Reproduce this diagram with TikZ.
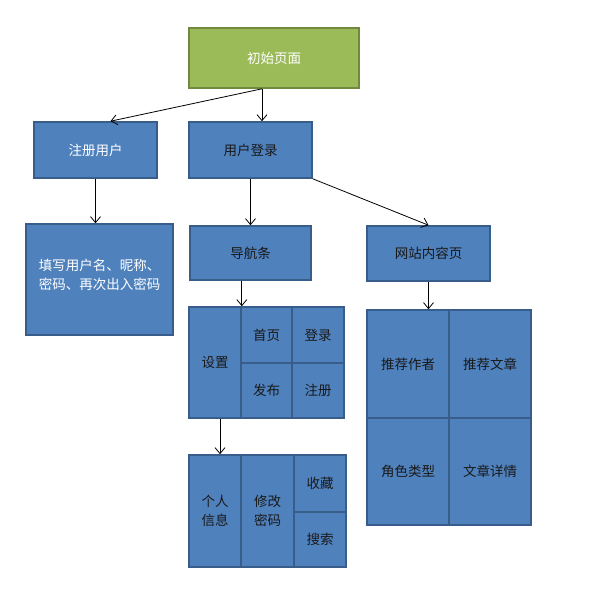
\documentclass[tikz,border=0pt]{standalone}
\usepackage{fontspec}
\setmainfont{Noto Sans CJK SC}
\usepackage{tikz}
\usetikzlibrary{arrows.meta}

\definecolor{boxblue}{HTML}{4F81BD}
\definecolor{edgeblue}{HTML}{385D8A}
\definecolor{boxgreen}{HTML}{9BBB59}
\definecolor{edgegreen}{HTML}{71893F}

\begin{document}
\begin{tikzpicture}[x=1pt, y=-1pt, every node/.style={font=\fontsize{13.5}{19}\selectfont, inner sep=0pt, align=center},
	>={Straight Barb[length=6pt, width=10pt]},
	blk/.style={draw=edgeblue, fill=boxblue, line width=1.6pt, text=black!90},
	wblk/.style={blk, text=white},
	gblk/.style={draw=edgegreen, fill=boxgreen, line width=1.6pt, text=white}]
	\useasboundingbox (0,0) rectangle (603,603);
	% top levels
	\node[gblk, minimum width=170pt, minimum height=60pt] (start) at (274,58) {初始页面};
	\node[wblk, minimum width=123pt, minimum height=56pt] (reg) at (95.5,150) {注册用户};
	\node[blk, minimum width=123pt, minimum height=56pt] (login) at (250.5,150) {用户登录};
	\node[wblk, minimum width=147pt, minimum height=111pt] (fill) at (99.5,279.5) {\raisebox{10pt}{\shortstack{填写用户名、昵称、\\[3pt]密码、再次出入密码}}};
	\node[blk, minimum width=121pt, minimum height=54pt] (nav) at (250.5,253) {导航条};
	\node[blk, minimum width=123pt, minimum height=55pt] (content) at (428.5,253.5) {网站内容页};
	% navigation bar
	\node[blk, minimum width=52pt, minimum height=111pt] (set) at (215,362.5) {设置};
	\node[blk, minimum width=51pt, minimum height=56pt] (home) at (266.5,335) {首页};
	\node[blk, minimum width=52pt, minimum height=56pt] (signin) at (318,335) {登录};
	\node[blk, minimum width=51pt, minimum height=55pt] (post) at (266.5,390.5) {发布};
	\node[blk, minimum width=52pt, minimum height=55pt] (signup) at (318,390.5) {注册};
	% settings
	\node[blk, minimum width=52pt, minimum height=112pt] (info) at (215,511) {个人\\信息};
	\node[blk, minimum width=53pt, minimum height=112pt] (pwd) at (267.5,511) {修改\\密码};
	\node[blk, minimum width=52pt, minimum height=57pt] (fav) at (320,483.5) {收藏};
	\node[blk, minimum width=52pt, minimum height=55pt] (search) at (320,539.5) {搜索};
	% content
	\node[blk, minimum width=82pt, minimum height=108pt] (author) at (408,364) {推荐作者};
	\node[blk, minimum width=82pt, minimum height=108pt] (article) at (490,364) {推荐文章};
	\node[blk, minimum width=82pt, minimum height=107pt] (role) at (408,471.5) {角色类型};
	\node[blk, minimum width=82pt, minimum height=107pt] (detail) at (490,471.5) {文章详情};
	% arrows
	\coordinate (split) at (262,88.8);
	\begin{scope}[line width=0.8pt]
	\draw[->] (split) -- (split |- login.north);
	\draw[->] (split) -- ([xshift=15pt]reg.north);
	\draw[->] (reg.south) -- (reg.south |- fill.north);
	\draw[->] (login) -- (nav);
	\draw[->] (login.south east) -- (content.north);
	\draw[->] (nav.south -| set.north east) -- (set.north east);
	\draw[->] ([xshift=5pt]set.south) -- ([xshift=5pt]info.north);
	\draw[->] (content.south) -- (content.south |- author.north);
	\end{scope}
\end{tikzpicture}
\end{document}
